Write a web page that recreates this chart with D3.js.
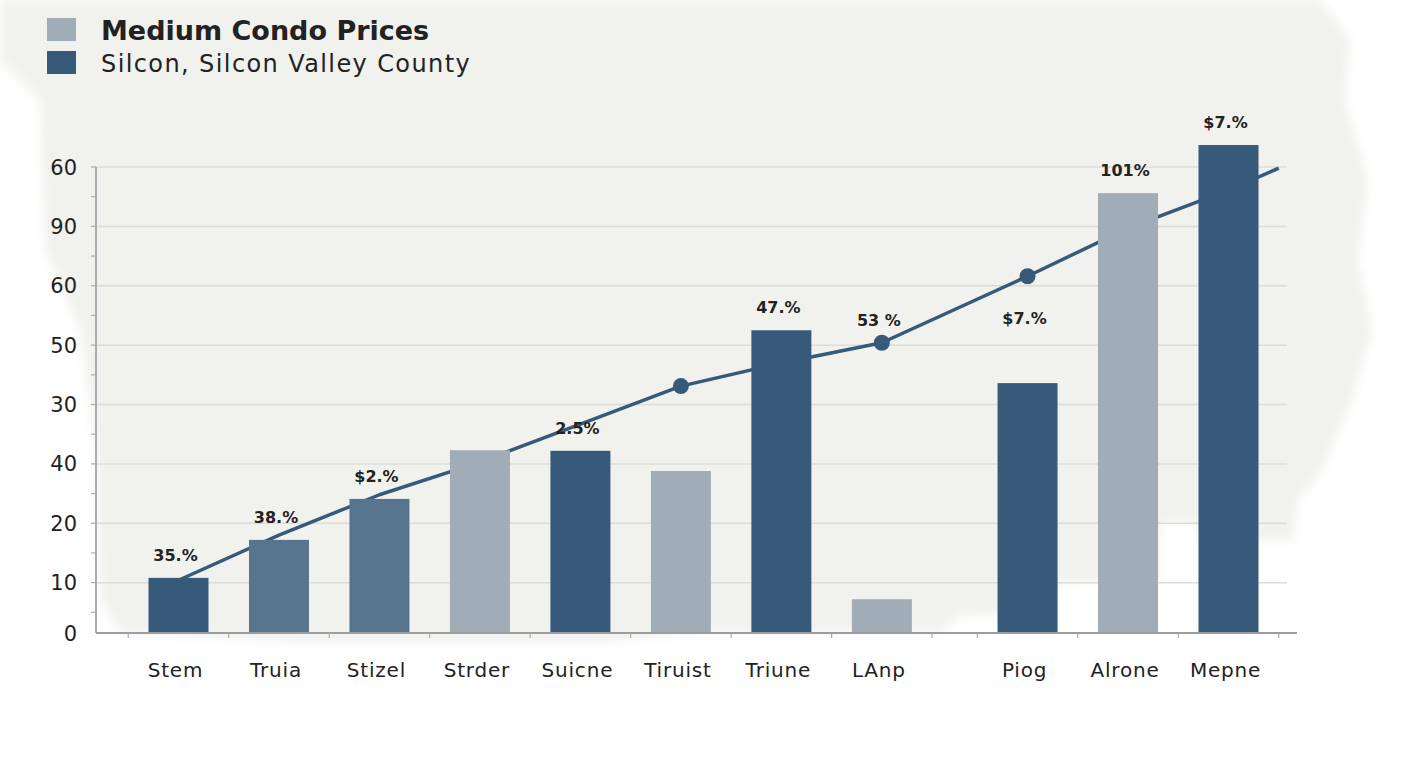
<html>
<head>
<script src="https://d3js.org/d3.v7.min.js"></script>
<style>
body { margin: 0; background: #fff; }
svg { display: block; }
text { font-family: 'DejaVu Sans', 'Noto Sans', sans-serif; fill: #222; }
</style>
</head>
<body>
<svg width="1408" height="768"></svg>
<script>
// chart data
var categories = ["Stem", "Truia", "Stizel", "Strder", "Suicne", "Tiruist", "Triune", "LAnp", "Piog", "Alrone", "Mepne"];
var barValues = [10.8, 17.2, 24.1, 32.3, 32.2, 28.8, 52.5, 7.2, 43.6, 75.6, 83.7];
var barShade = ["dark", "medium", "medium", "light", "dark", "light", "dark", "light", "dark", "light", "dark"];
var lineValues = [10.4, 18.0, 24.8, 30.3, 36.7, 43.1, 47.0, 50.4, 61.6, 69.7, 76.1];
var lineTail = 79.8; // the line runs on a little past the last bar
var markerCats = ["Tiruist", "LAnp", "Piog"];
var valueLabels = ["35.%", "38.%", "$2.%", null, "2.5%", null, "47.%", "53 %", "$7.%", "101%", "$7.%"];
var labelAnchor = ["bar", "bar", "bar", null, "bar", null, "bar", "lineAbove", "lineBelow", "bar", "bar"];
var yTickValues = [10, 20, 30, 40, 50, 60, 70, 80];
var yTickLabels = ["10", "20", "40", "30", "50", "60", "90", "60"];
var baseValue = 1.5;   // the x axis sits a bit above zero; labelled "0"
var baseLabel = "0";
var legendItems = [
  { label: "Medium Condo Prices", shade: "light", bold: true },
  { label: "Silcon, Silcon Valley County", shade: "dark", bold: false }
];

var colors = { dark: "#37597a", medium: "#587590", light: "#a0adb6" };

var svg = d3.select("svg");

// painted cream background with soft edges
var defs = svg.append("defs");
defs.append("filter").attr("id", "soft")
  .append("feGaussianBlur").attr("stdDeviation", 5);
var bgPts = [[0,0],[1320,0],[1350,40],[1345,100],[1368,180],[1358,260],[1372,330],[1352,400],[1322,470],[1298,500],
  [1293,540],[1200,540],[1196,522],[1160,522],[1158,580],[1062,582],[1040,612],[960,616],[940,632],[700,632],
  [600,642],[300,642],[120,632],[100,600],[96,450],[80,330],[45,250],[40,100],[0,60]];
svg.append("path")
  .attr("d", d3.line()(bgPts) + "Z")
  .attr("fill", "#f1f2ee")
  .attr("filter", "url(#soft)");

// scales: a small gap after LAnp
var gap = 0.45;
function slot(i) { return i + (i > 7 ? gap : 0); }
var x = d3.scaleLinear().domain([0, 10 + gap]).range([178.5, 1228.5]);
var y = d3.scaleLinear().domain([0, 80]).range([642, 167]);
var barW = 60;
var axisX = 96, gridEnd = 1287, axisEnd = 1297;

// gridlines
svg.append("g").selectAll("line").data(yTickValues).enter().append("line")
  .attr("x1", axisX).attr("x2", gridEnd)
  .attr("y1", function (d) { return y(d); }).attr("y2", function (d) { return y(d); })
  .attr("stroke", "#dcdcda").attr("stroke-width", 1.5);

// minor ticks on the y axis
var minor = yTickValues.map(function (d) { return d - 5; });
svg.append("g").selectAll("line").data(yTickValues.concat(minor)).enter().append("line")
  .attr("x1", axisX - 5).attr("x2", axisX)
  .attr("y1", function (d) { return y(d); }).attr("y2", function (d) { return y(d); })
  .attr("stroke", "#a9acaf").attr("stroke-width", 1.2);

// y labels
svg.append("g").selectAll("text").data(yTickValues).enter().append("text")
  .attr("x", 77).attr("y", function (d) { return y(d); })
  .attr("dy", "0.36em").attr("text-anchor", "end")
  .style("font-size", "21px")
  .text(function (d, i) { return yTickLabels[i]; });
svg.append("text").attr("x", 77).attr("y", y(baseValue)).attr("dy", "0.36em")
  .attr("text-anchor", "end").style("font-size", "21px").text(baseLabel);

// the trend line sits behind the bars
var linePts = lineValues.map(function (v, i) { return [x(slot(i)), y(v)]; });
linePts.push([x(slot(categories.length - 1) + 0.5), y(lineTail)]);
svg.append("path")
  .attr("d", d3.line()(linePts))
  .attr("fill", "none").attr("stroke", colors.dark)
  .attr("stroke-width", 3.5).attr("stroke-linejoin", "round");

svg.append("g").selectAll("circle")
  .data(categories.filter(function (c) { return markerCats.indexOf(c) >= 0; }))
  .enter().append("circle")
  .attr("cx", function (c) { return x(slot(categories.indexOf(c))); })
  .attr("cy", function (c) { return y(lineValues[categories.indexOf(c)]); })
  .attr("r", 8).attr("fill", colors.dark);

// bars
svg.append("g").selectAll("rect").data(barValues).enter().append("rect")
  .attr("x", function (d, i) { return x(slot(i)) - barW / 2; })
  .attr("y", function (d) { return y(d); })
  .attr("width", barW)
  .attr("height", function (d) { return y(baseValue) - y(d); })
  .attr("fill", function (d, i) { return colors[barShade[i]]; });

// value labels (keep the category index with each label)
var labelData = valueLabels.map(function (t, i) { return { text: t, i: i, anchor: labelAnchor[i] }; })
  .filter(function (d) { return d.text !== null; });
svg.append("g").selectAll("text").data(labelData).enter().append("text")
  .attr("x", function (d) { return x(slot(d.i)) - 3; })
  .attr("y", function (d) {
    if (d.anchor === "lineAbove") return y(lineValues[d.i]) - 23;
    if (d.anchor === "lineBelow") return y(lineValues[d.i]) + 42;
    return y(barValues[d.i]) - 23;
  })
  .attr("dy", "0.36em").attr("text-anchor", "middle")
  .style("font-size", "16px").style("font-weight", 700)
  .text(function (d) { return d.text; });

// axes
svg.append("line").attr("x1", axisX).attr("x2", axisX)
  .attr("y1", y(80)).attr("y2", y(baseValue))
  .attr("stroke", "#a9acaf").attr("stroke-width", 2);
svg.append("line").attr("x1", axisX).attr("x2", axisEnd)
  .attr("y1", y(baseValue)).attr("y2", y(baseValue))
  .attr("stroke", "#9a9ea3").attr("stroke-width", 2);

var bounds = [];
categories.forEach(function (c, i) {
  [slot(i) - 0.5, slot(i) + 0.5].forEach(function (b) {
    if (bounds.indexOf(b) < 0) bounds.push(b);
  });
});
svg.append("g").selectAll("line").data(bounds).enter().append("line")
  .attr("x1", function (d) { return x(d); }).attr("x2", function (d) { return x(d); })
  .attr("y1", y(baseValue)).attr("y2", y(baseValue) + 5)
  .attr("stroke", "#a9acaf").attr("stroke-width", 1.2);

svg.append("g").selectAll("text").data(categories).enter().append("text")
  .attr("x", function (d, i) { return x(slot(i)) - 3; })
  .attr("y", 677)
  .attr("text-anchor", "middle")
  .style("font-size", "20px").style("letter-spacing", "0.8px")
  .text(function (d) { return d; });

// legend
var lg = svg.append("g").selectAll("g").data(legendItems).enter().append("g")
  .attr("transform", function (d, i) { return "translate(47," + (18 + i * 33) + ")"; });
lg.append("rect").attr("width", 29).attr("height", 23)
  .attr("fill", function (d) { return colors[d.shade]; });
lg.append("text").attr("x", 54).attr("y", 12).attr("dy", "0.36em")
  .style("font-size", function (d) { return d.bold ? "27px" : "24px"; })
  .style("font-weight", function (d) { return d.bold ? 700 : 400; })
  .style("letter-spacing", function (d) { return d.bold ? "0px" : "1.4px"; })
  .text(function (d) { return d.label; });
</script>
</body>
</html>
